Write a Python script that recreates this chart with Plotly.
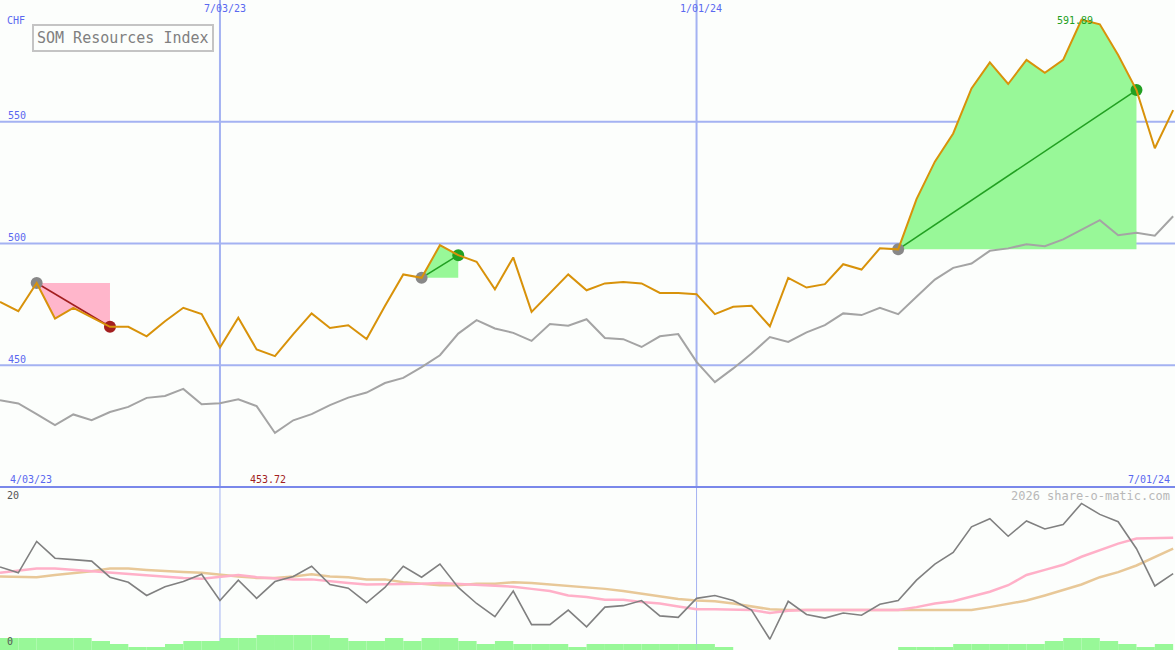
import pandas as pd
import plotly.graph_objects as go

# weekly closes, 4/10/23 .. 7/01/24
weeks = pd.date_range("2023-04-10", periods=65, freq="7D")

price = [476.0, 472.2, 483.8, 469.2, 473.6, 469.7, 465.8, 465.8, 461.9, 468.1,
         473.6, 471.0, 457.3, 469.5, 456.5, 453.72, 462.8, 471.3, 465.3, 466.4,
         460.8, 474.3, 487.3, 485.9, 499.3, 495.2, 492.5, 481.2, 494.3, 471.9,
         479.5, 487.3, 480.8, 483.6, 484.2, 483.6, 479.7, 479.7, 479.2, 471.0,
         474.0, 474.4, 466.0, 485.9, 481.9, 483.3, 491.5, 489.3, 498.0, 497.6,
         518.2, 533.6, 545.2, 563.7, 574.4, 565.5, 575.4, 570.1, 575.4, 591.89,
         590.0, 577.4, 563.0, 539.1, 554.8]

market = [435.6, 434.3, 429.9, 425.4, 429.8, 427.4, 430.8, 432.9, 436.6, 437.4,
          440.3, 434.0, 434.4, 436.0, 433.2, 422.2, 427.4, 429.9, 433.6, 436.7,
          438.8, 442.7, 444.8, 449.2, 454.1, 463.0, 468.5, 465.1, 463.3, 460.0,
          466.9, 466.2, 468.9, 461.2, 460.7, 457.5, 461.9, 462.8, 451.4, 443.1,
          448.7, 454.8, 461.6, 459.6, 463.5, 466.5, 471.3, 470.6, 473.6, 471.0,
          478.1, 485.2, 490.0, 491.8, 497.0, 498.0, 499.7, 498.9, 501.7, 505.5,
          509.6, 503.4, 504.4, 503.2, 511.2]

volatility = [11.1, 10.3, 14.6, 12.3, 12.1, 11.9, 9.7, 9.0, 7.2, 8.4,
              9.1, 10.1, 6.5, 9.3, 6.8, 9.1, 9.8, 11.2, 8.7, 8.2,
              6.2, 8.3, 11.2, 9.7, 11.5, 8.3, 6.1, 4.3, 7.8, 3.2,
              3.2, 5.2, 2.9, 5.6, 5.8, 6.5, 4.4, 4.2, 6.8, 7.2,
              6.5, 5.2, 1.2, 6.4, 4.6, 4.1, 4.8, 4.5, 6.0, 6.5,
              9.3, 11.5, 13.1, 16.6, 17.7, 15.3, 17.4, 16.3, 16.9, 19.8,
              18.3, 17.3, 13.6, 8.5, 10.2]

vol_short = [10.3, 10.6, 10.9, 10.9, 10.7, 10.5, 10.4, 10.1, 9.9, 9.8,
             9.6, 9.5, 9.8, 10.0, 9.7, 9.5, 9.4, 9.4, 9.1, 8.9,
             8.7, 8.7, 8.8, 8.8, 8.9, 8.8, 8.6, 8.5, 8.4, 8.1,
             7.8, 7.2, 7.0, 6.6, 6.6, 6.3, 6.1, 5.7, 5.3, 5.3,
             5.3, 5.2, 4.8, 5.1, 5.2, 5.2, 5.2, 5.1, 5.2, 5.2,
             5.6, 6.1, 6.4, 7.0, 7.7, 8.6, 10.0, 10.7, 11.4, 12.5,
             13.4, 14.3, 15.0, 15.1, 15.1]

vol_long = [9.8, 9.7, 9.7, 10.0, 10.2, 10.5, 10.9, 10.9, 10.7, 10.5,
            10.4, 10.3, 10.0, 9.8, 9.6, 9.6, 9.8, 10.1, 9.8, 9.7,
            9.4, 9.4, 9.0, 8.8, 8.6, 8.6, 8.8, 8.8, 9.0, 8.9,
            8.7, 8.6, 8.4, 8.1, 7.8, 7.4, 7.1, 6.7, 6.5, 6.4,
            6.1, 5.7, 5.3, 5.2, 5.2, 5.2, 5.1, 5.1, 5.2, 5.2,
            5.2, 5.1, 5.1, 5.2, 5.6, 6.1, 6.5, 7.2, 7.9, 8.7,
            9.7, 10.4, 11.3, 12.5, 13.6]

volume = [4, 4, 4, 4, 4, 3, 2, 1, 1, 2,
          3, 3, 4, 4, 5, 5, 5, 5, 4, 3,
          3, 4, 3, 4, 4, 3, 2, 3, 2, 2,
          2, 1, 2, 2, 2, 2, 2, 2, 2, 1,
          0, 0, 0, 0, 0, 0, 0, 0, 0, 1,
          1, 1, 2, 2, 2, 2, 2, 3, 4, 4,
          3, 2, 1, 2, 0]

# (entry week, exit week)
trades = [(2, 6), (23, 25), (49, 62)]

W, H = 1175, 650
SPLIT = 163 / H
MONO = "DejaVu Sans Mono"
BLUE = "#5a68f0"
RED = "#a31f1f"
GREEN = "#22a022"

fig = go.Figure()

# trade fills
for s, e in trades:
    win = price[e] > price[s]
    xs = weeks[s:e + 1]
    fig.add_trace(go.Scatter(x=xs, y=[price[s]] * len(xs), mode="lines",
                             line=dict(width=0), yaxis="y"))
    fig.add_trace(go.Scatter(x=xs, y=price[s:e + 1], mode="lines", fill="tonexty",
                             fillcolor="#98f898" if win else "#ffb6cb",
                             line=dict(width=0), yaxis="y"))

fig.add_trace(go.Scatter(x=weeks, y=market, mode="lines",
                         line=dict(color="#a4a4a4", width=2), yaxis="y"))

for s, e in trades:
    win = price[e] > price[s]
    c = GREEN if win else RED
    fig.add_trace(go.Scatter(x=[weeks[s], weeks[e]], y=[price[s], price[e]], mode="lines",
                             line=dict(color=c, width=1.6), yaxis="y"))
    fig.add_trace(go.Scatter(x=[weeks[s], weeks[e]], y=[price[s], price[e]], mode="markers",
                             marker=dict(size=12, color=["#888888", c]), yaxis="y"))

fig.add_trace(go.Scatter(x=weeks, y=price, mode="lines",
                         line=dict(color="#d8920a", width=2), yaxis="y"))

# lower panel
fig.add_trace(go.Bar(x=weeks, y=volume, width=7 * 86400000, offset=0,
                     marker=dict(color="#98f898", line=dict(width=0)), yaxis="y3"))
fig.add_trace(go.Scatter(x=weeks, y=vol_long, mode="lines",
                         line=dict(color="#e8c898", width=2.5), yaxis="y2"))
fig.add_trace(go.Scatter(x=weeks, y=vol_short, mode="lines",
                         line=dict(color="#ffb0c8", width=2.5), yaxis="y2"))
fig.add_trace(go.Scatter(x=weeks, y=volatility, mode="lines",
                         line=dict(color="#808080", width=1.6), yaxis="y2"))

shapes = []
for v in [450, 500, 550]:
    shapes.append(dict(type="line", xref="paper", yref="y", x0=0, x1=1, y0=v, y1=v,
                       line=dict(color="#a4b2f2", width=2), layer="below"))
for d in ["2023-07-03", "2024-01-01"]:
    shapes.append(dict(type="line", xref="x", yref="paper", x0=d, x1=d, y0=SPLIT, y1=1,
                       line=dict(color="#a4b2f2", width=2), layer="below"))
    shapes.append(dict(type="line", xref="x", yref="paper", x0=d, x1=d, y0=0, y1=SPLIT,
                       line=dict(color="#a4b2f2", width=1), layer="below"))
shapes.append(dict(type="line", xref="paper", yref="paper", x0=0, x1=1, y0=SPLIT, y1=SPLIT,
                   line=dict(color="#7a88ea", width=2), layer="below"))


def px(x):
    return x / W


def py(y):
    return 1 - y / H


def label(text, x, y, color=BLUE, size=10, anchor="left", **kw):
    return dict(text=text, x=x, y=y, xref=kw.pop("xref", "paper"), yref=kw.pop("yref", "paper"),
                showarrow=False, xanchor=anchor, yanchor="middle",
                font=dict(family=MONO, size=size, color=color), **kw)


imin = price.index(min(price))
imax = price.index(max(price))

annots = [
    label("CHF", px(5), py(21)),
    label("7/03/23", "2023-07-03", py(8), anchor="center", xref="x", xshift=5),
    label("1/01/24", "2024-01-01", py(8), anchor="center", xref="x", xshift=4),
    label("4/03/23", px(8), py(479)),
    label("7/01/24", px(1172), py(479), anchor="right"),
    label(f"{min(price):.2f}", weeks[imin], py(479), color=RED, anchor="center", xref="x", xshift=-7),
    label(f"{max(price):.2f}", weeks[imax], py(21), color=GREEN, anchor="center", xref="x", xshift=-6),
    label("20", px(5), py(495), color="#555555"),
    label("0", px(5), py(641), color="#555555"),
    label("2026 share-o-matic.com", px(1172), py(496), color="#b8b8b8", size=12, anchor="right"),
    dict(text="SOM Resources Index", x=px(32), y=py(24), xref="paper", yref="paper",
         showarrow=False, xanchor="left", yanchor="top", bordercolor="#c4c4c4",
         borderwidth=2, borderpad=3, bgcolor="#fcfefc",
         font=dict(family=MONO, size=15, color="#808080")),
]
for v in [450, 500, 550]:
    annots.append(label(str(v), px(6), v, yref="y", yshift=6))

fig.update_layout(
    width=W, height=H, margin=dict(l=0, r=0, t=0, b=0),
    paper_bgcolor="#fcfefc", plot_bgcolor="#fcfefc",
    showlegend=False, hovermode=False,
    xaxis=dict(range=["2023-04-10", "2024-07-01 17:00"], visible=False),
    yaxis=dict(domain=[SPLIT, 1], range=[400, 600], visible=False),
    yaxis2=dict(domain=[0, SPLIT], range=[-0.27, 22.05], visible=False),
    yaxis3=dict(overlaying="y2", range=[0, 54.3], visible=False),
    shapes=shapes, annotations=annots,
)

fig.write_html("out.html", config={"displayModeBar": False},
               post_script="document.body.style.margin='0';")
